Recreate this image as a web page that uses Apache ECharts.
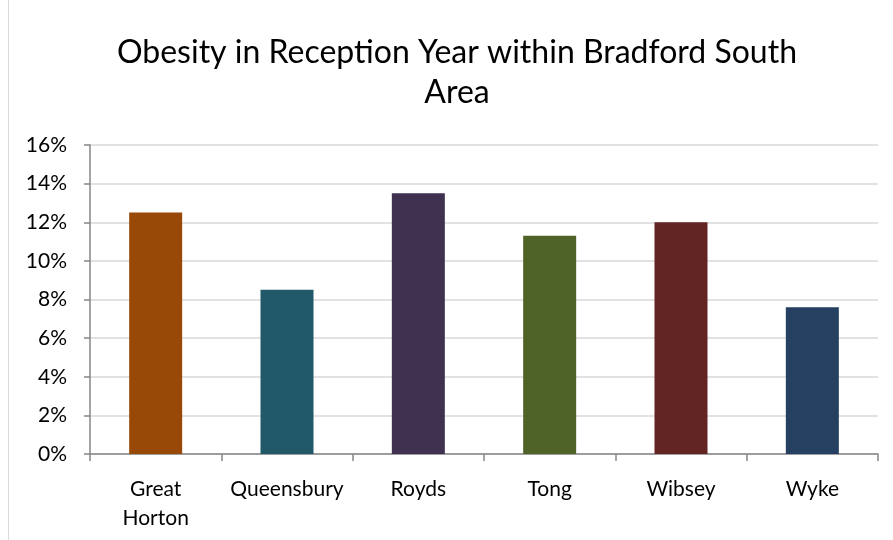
<!DOCTYPE html>
<html><head><meta charset="utf-8">
<script src="https://cdn.jsdelivr.net/npm/echarts@6/dist/echarts.min.js"></script>
<style>html,body{margin:0;padding:0;background:#fff}#c{width:893px;height:540px}</style>
</head><body><div id="c"></div>
<script>
const categories = ["Great Horton", "Queensbury", "Royds", "Tong", "Wibsey", "Wyke"];
const values = [0.125, 0.085, 0.135, 0.113, 0.120, 0.076];
const barColors = ["#984807", "#215968", "#403151", "#4F6228", "#632523", "#254061"];
const yTicks = { min: 0, max: 0.16, interval: 0.02 };
const titleText = "Obesity in Reception Year within Bradford South\nArea";

const FONT = "Lato";
const chart = echarts.init(document.getElementById('c'), null, {renderer: 'canvas'});
chart.setOption({
  animation: false,
  backgroundColor: '#fff',
  graphic: [
    {type: 'line', shape: {x1: 8.5, y1: 0, x2: 8.5, y2: 540}, style: {stroke: '#d9d9d9', lineWidth: 1}},
    {type: 'text', x: 457, y: 33, style: {text: titleText, textAlign: 'center', textVerticalAlign: 'top',
      fontFamily: FONT, fontSize: 32, fontWeight: 'normal', fill: '#000', lineHeight: 40}}
  ],
  grid: {left: 90, right: 15, top: 145, bottom: 86, containLabel: false},
  xAxis: {
    type: 'category', data: categories,
    axisLine: {lineStyle: {color: '#868686', width: 1.5}},
    axisTick: {show: true, length: 7, lineStyle: {color: '#868686', width: 1.5}},
    axisLabel: {interval: 0, fontFamily: FONT, fontSize: 21, color: '#000', margin: 21, lineHeight: 29,
      formatter: v => v.split(' ').join('\n')}
  },
  yAxis: {
    type: 'value', min: yTicks.min, max: yTicks.max, interval: yTicks.interval,
    axisLine: {show: true, lineStyle: {color: '#868686', width: 1.5}},
    axisTick: {show: true, length: 6, lineStyle: {color: '#868686', width: 1.5}},
    splitLine: {lineStyle: {color: '#d9d9d9', width: 1.5}},
    axisLabel: {fontFamily: FONT, fontSize: 21, color: '#000', margin: 23,
      formatter: v => Math.round(v * 100) + '%'}
  },
  series: [{
    type: 'bar', barWidth: 53,
    data: values.map((v, i) => ({value: v, itemStyle: {color: barColors[i]}}))
  }]
});
</script></body></html>
